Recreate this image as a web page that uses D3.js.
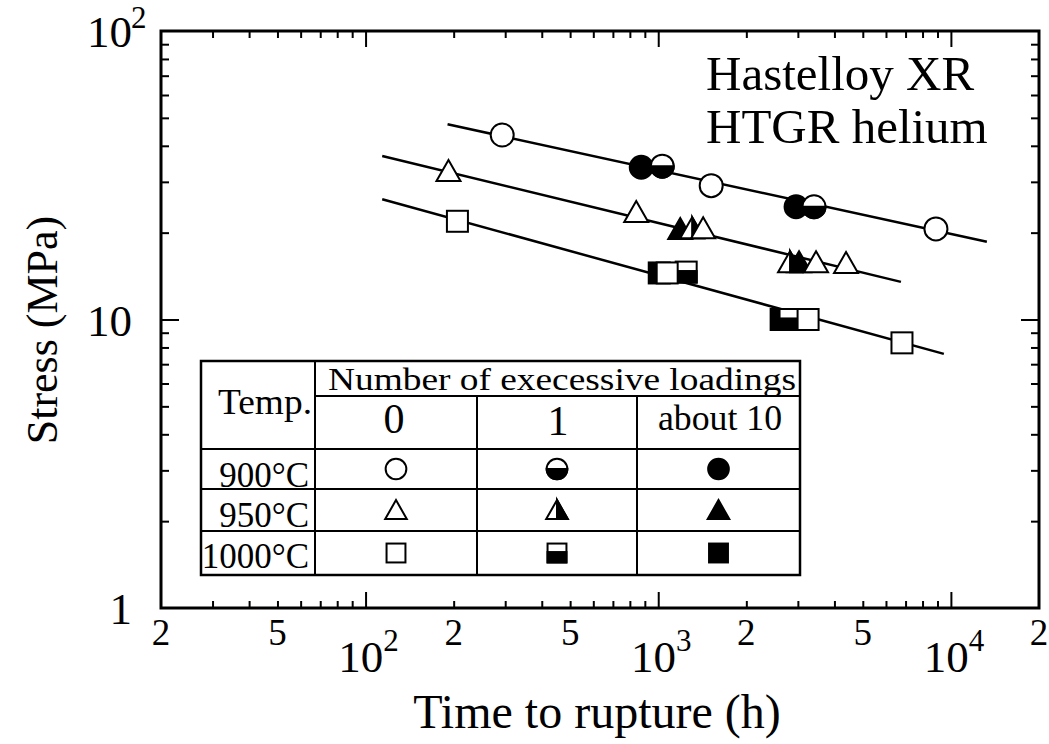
<!DOCTYPE html>
<html>
<head>
<meta charset="utf-8">
<script src="https://cdn.jsdelivr.net/npm/d3@7"></script>
<style>
  html, body { margin: 0; padding: 0; background: #fff; }
  svg { display: block; }
  text { font-family: "Liberation Serif", "Times New Roman", serif; fill: #000; }
</style>
</head>
<body>
<svg id="chart" width="1049" height="744"></svg>
<script>
// Creep rupture data: time to rupture (h) and stress (MPa),
// grouped by test temperature and number of excessive loadings.
const t900_0 = [293, 1517, 8890];
const s900_0 = [43.6, 29.1, 20.6];
const t900_1 = [1032, 3406];
const s900_1 = [34.0, 24.6];
const t900_10 = [875, 2958];
const s900_10 = [33.7, 24.6];

const t950_0 = [192, 841, 1424, 3461, 4382];
const s950_0 = [32.7, 23.6, 20.7, 15.8, 15.7];
const t950_1 = [1306, 2821];
const s950_1 = [20.7, 15.8];
const t950_10 = [1189, 3028];
const s950_10 = [20.6, 15.8];

const t1000_0 = [206, 1073, 3251, 6805];
const s1000_0 = [21.9, 14.5, 10.0, 8.3];
const t1000_1 = [1246, 2821];
const s1000_1 = [14.6, 10.0];
const t1000_10 = [1008, 2630];
const s1000_10 = [14.5, 10.0];

// Fitted rupture lines, [start, end] as [h, MPa]
const fit900 = [[190.6, 47.5], [13270, 18.6]];
const fit950 = [[114, 36.9], [6750, 13.5]];
const fit1000 = [[114, 26.1], [9460, 7.6]];

// Legend table contents
const tempLabels = ["900°C", "950°C", "1000°C"];
const loadingLabels = ["0", "1", "about 10"];
const shapes = ["circle", "triangle", "square"];
const fills = ["open", "half", "filled"];

// Axis tick labels
const xMinorLabelValues = [20, 50, 200, 500, 2000, 5000, 20000];
const xMinorLabels = ["2", "5", "2", "5", "2", "5", "2"];
const xDecadeValues = [100, 1000, 10000];
const xDecadeExponents = ["2", "3", "4"];
const yLabelValues = [1, 10, 100];
const yLabelBases = ["1", "10", "10"];
const yLabelExponents = ["", "", "2"];

const svg = d3.select("#chart");

const x = d3.scaleLog().domain([20, 20000]).range([161, 1039]);
const y = d3.scaleLog().domain([1, 100]).range([608, 31]);

const X0 = x.range()[0], X1 = x.range()[1];
const Y0 = y.range()[0], Y1 = y.range()[1];

// ---- ticks (pointing inward on all four sides) ----
const xTicks = x.ticks();
const yTicks = y.ticks();
const isDecade = v => Math.abs(Math.log10(v) - Math.round(Math.log10(v))) < 1e-9;

function tickGroup(axisFn, scale, values, size, transform) {
  const g = svg.append("g")
    .attr("transform", transform)
    .call(axisFn(scale).tickValues(values).tickSize(size).tickFormat(""));
  g.select(".domain").remove();
  g.selectAll(".tick line").attr("stroke", "#000").attr("stroke-width", 2);
  return g;
}
const xMinor = xTicks.filter(v => !isDecade(v) && v > 20 && v < 20000);
const xMajor = xTicks.filter(isDecade);
const yMinor = yTicks.filter(v => !isDecade(v));
const yMajor = yTicks.filter(v => isDecade(v) && v > 1 && v < 100);

tickGroup(d3.axisBottom, x, xMinor, -7, `translate(0,${Y0})`);
tickGroup(d3.axisBottom, x, xMajor, -16, `translate(0,${Y0})`);
tickGroup(d3.axisTop, x, xMinor, -7, `translate(0,${Y1})`);
tickGroup(d3.axisTop, x, xMajor, -16, `translate(0,${Y1})`);
tickGroup(d3.axisLeft, y, yMinor, -8, `translate(${X0},0)`);
tickGroup(d3.axisLeft, y, yMajor, -18, `translate(${X0},0)`);
tickGroup(d3.axisRight, y, yMinor, -8, `translate(${X1},0)`);
tickGroup(d3.axisRight, y, yMajor, -18, `translate(${X1},0)`);

// plot frame
svg.append("rect")
  .attr("x", X0).attr("y", Y1)
  .attr("width", X1 - X0).attr("height", Y0 - Y1)
  .attr("fill", "none").attr("stroke", "#000").attr("stroke-width", 3);

// ---- tick labels ----
svg.append("g").selectAll("text")
  .data(xMinorLabelValues)
  .join("text")
  .attr("x", d => x(d))
  .attr("y", Y0 + 37)
  .attr("text-anchor", "middle")
  .attr("font-size", 37)
  .text((d, i) => xMinorLabels[i]);

xDecadeValues.forEach((v, i) => {
  const t = svg.append("text")
    .attr("x", x(v) + 3)
    .attr("y", Y0 + 64)
    .attr("text-anchor", "middle")
    .attr("font-size", 45);
  t.append("tspan").text("10");
  t.append("tspan").attr("font-size", 31).attr("dy", -21).text(xDecadeExponents[i]);
});

yLabelValues.forEach((v, i) => {
  svg.append("text")
    .attr("x", 132)
    .attr("y", y(v) + 16)
    .attr("text-anchor", "end")
    .attr("font-size", 45)
    .text(yLabelBases[i]);
  if (yLabelExponents[i]) {
    svg.append("text")
      .attr("x", 131)
      .attr("y", y(v) - 3)
      .attr("text-anchor", "start")
      .attr("font-size", 31)
      .text(yLabelExponents[i]);
  }
});

// axis titles
svg.append("text")
  .attr("transform", "translate(57,330) rotate(-90)")
  .attr("text-anchor", "middle")
  .attr("font-size", 44)
  .text("Stress (MPa)");

svg.append("text")
  .attr("x", 597).attr("y", 728)
  .attr("text-anchor", "middle")
  .attr("font-size", 48)
  .text("Time to rupture (h)");

// material / environment note
svg.append("text").attr("x", 706).attr("y", 90).attr("font-size", 49).text("Hastelloy XR");
svg.append("text").attr("x", 706).attr("y", 143).attr("font-size", 49).text("HTGR helium");

// ---- fitted lines ----
const line = d3.line().x(d => x(d[0])).y(d => y(d[1]));
[fit900, fit950, fit1000].forEach(f => {
  svg.append("path").attr("d", line(f))
    .attr("fill", "none").attr("stroke", "#000").attr("stroke-width", 2.5);
});

// ---- markers ----
function marker(g, shape, fill, cx, cy, k = 1) {
  const sw = 2;
  if (shape === "circle") {
    const r = 11.5 * k;
    g.append("circle").attr("cx", cx).attr("cy", cy).attr("r", r)
      .attr("fill", fill === "filled" ? "#000" : "#fff")
      .attr("stroke", "#000").attr("stroke-width", sw);
    if (fill === "half") {
      g.append("path")
        .attr("d", `M${cx - r},${cy} A${r},${r} 0 0 0 ${cx + r},${cy} Z`)
        .attr("fill", "#000").attr("stroke", "#000").attr("stroke-width", sw);
    }
  } else if (shape === "triangle") {
    const w = 12 * k, top = cy - 11 * k, base = cy + 10 * k;
    g.append("path")
      .attr("d", `M${cx},${top} L${cx + w},${base} L${cx - w},${base} Z`)
      .attr("fill", fill === "filled" ? "#000" : "#fff")
      .attr("stroke", "#000").attr("stroke-width", sw).attr("stroke-linejoin", "miter");
    if (fill === "half") {
      g.append("path")
        .attr("d", `M${cx},${top} L${cx + w},${base} L${cx},${base} Z`)
        .attr("fill", "#000").attr("stroke", "#000").attr("stroke-width", sw);
    }
  } else {
    const h = 10.5 * k;
    g.append("rect").attr("x", cx - h).attr("y", cy - h)
      .attr("width", 2 * h).attr("height", 2 * h)
      .attr("fill", fill === "filled" ? "#000" : "#fff")
      .attr("stroke", "#000").attr("stroke-width", sw);
    if (fill === "half") {
      g.append("rect").attr("x", cx - h).attr("y", cy - h * 0.1)
        .attr("width", 2 * h).attr("height", h * 1.1)
        .attr("fill", "#000").attr("stroke", "#000").attr("stroke-width", sw);
    }
  }
}

const series = [
  { shape: "circle", fill: "filled", t: t900_10, s: s900_10 },
  { shape: "circle", fill: "half", t: t900_1, s: s900_1 },
  { shape: "circle", fill: "open", t: t900_0, s: s900_0 },
  { shape: "triangle", fill: "filled", t: t950_10, s: s950_10 },
  { shape: "triangle", fill: "half", t: t950_1, s: s950_1 },
  { shape: "triangle", fill: "open", t: t950_0, s: s950_0 },
  { shape: "square", fill: "filled", t: t1000_10, s: s1000_10 },
  { shape: "square", fill: "half", t: t1000_1, s: s1000_1 },
  { shape: "square", fill: "open", t: t1000_0, s: s1000_0 }
];
const gMarks = svg.append("g");
series.forEach(sr => {
  sr.t.forEach((tv, i) => marker(gMarks, sr.shape, sr.fill, x(tv), y(sr.s[i])));
});

// ---- legend table ----
const colX = [201, 315, 477, 637, 800];
const rowY = [361, 396, 449, 489, 531, 575];
const tb = svg.append("g");
tb.append("rect").attr("x", colX[0]).attr("y", rowY[0])
  .attr("width", colX[4] - colX[0]).attr("height", rowY[5] - rowY[0])
  .attr("fill", "#fff").attr("stroke", "#000").attr("stroke-width", 2.5);
const hl = (x1, x2, yy) => tb.append("line").attr("x1", x1).attr("x2", x2).attr("y1", yy).attr("y2", yy)
  .attr("stroke", "#000").attr("stroke-width", 2);
const vl = (xx, y1, y2) => tb.append("line").attr("x1", xx).attr("x2", xx).attr("y1", y1).attr("y2", y2)
  .attr("stroke", "#000").attr("stroke-width", 2);
hl(colX[1], colX[4], rowY[1]);
[rowY[2], rowY[3], rowY[4]].forEach(yy => hl(colX[0], colX[4], yy));
vl(colX[1], rowY[0], rowY[5]);
vl(colX[2], rowY[1], rowY[5]);
vl(colX[3], rowY[1], rowY[5]);

tb.append("text").attr("x", 265).attr("y", 414).attr("text-anchor", "middle")
  .attr("font-size", 35).attr("textLength", 94).attr("lengthAdjust", "spacingAndGlyphs").text("Temp.");
tb.append("text").attr("x", 328).attr("y", 390)
  .attr("font-size", 32).attr("textLength", 468).attr("lengthAdjust", "spacingAndGlyphs")
  .text("Number of execessive loadings");

const headX = [394, 558, 720];
const headY = [433, 435, 430];
const headSize = [42, 42, 35];
loadingLabels.forEach((lab, i) => {
  const t = tb.append("text").attr("x", headX[i]).attr("y", headY[i])
    .attr("text-anchor", "middle").attr("font-size", headSize[i]).text(lab);
  if (i === 2) t.attr("textLength", 124).attr("lengthAdjust", "spacingAndGlyphs");
});

const rowMid = [469, 510, 553];
const rowBase = [487, 527, 568];
tempLabels.forEach((lab, r) => {
  tb.append("text").attr("x", 309).attr("y", rowBase[r])
    .attr("text-anchor", "end").attr("font-size", 35).text(lab);
  fills.forEach((f, c) => {
    marker(tb, shapes[r], f, (colX[c + 1] + colX[c + 2]) / 2, rowMid[r], 0.9);
  });
});
</script>
</body>
</html>
